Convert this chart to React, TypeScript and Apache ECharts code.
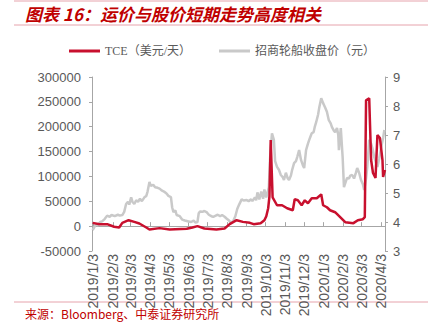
import React, { useEffect, useRef } from "react";
import * as echarts from "echarts";

// ---- Data ----
const monthTicks = [
  "2019/1/3", "2019/2/3", "2019/3/3", "2019/4/3", "2019/5/3", "2019/6/3", "2019/7/3", "2019/8/3",
  "2019/9/3", "2019/10/3", "2019/11/3", "2019/12/3", "2020/1/3", "2020/2/3", "2020/3/3", "2020/4/3",
];

const tceDates = [
  "2019/1/2", "2019/1/13", "2019/1/25", "2019/2/5", "2019/2/13", "2019/2/18", "2019/2/28", "2019/3/9",
  "2019/3/17", "2019/3/28", "2019/4/2", "2019/4/18", "2019/5/4", "2019/5/31", "2019/6/9", "2019/6/17",
  "2019/6/28", "2019/7/17", "2019/7/30", "2019/8/7", "2019/8/18", "2019/8/28", "2019/9/8", "2019/9/14",
  "2019/9/25", "2019/10/1", "2019/10/4", "2019/10/7", "2019/10/9", "2019/10/11", "2019/10/14", "2019/10/21",
  "2019/10/29", "2019/11/6", "2019/11/15", "2019/11/18", "2019/11/23", "2019/11/29", "2019/12/4", "2019/12/9",
  "2019/12/15", "2019/12/23", "2019/12/30", "2020/1/2", "2020/1/8", "2020/1/13", "2020/1/21", "2020/1/29",
  "2020/2/6", "2020/2/19", "2020/2/26", "2020/3/5", "2020/3/8", "2020/3/10", "2020/3/15", "2020/3/18",
  "2020/3/21", "2020/3/25", "2020/3/28", "2020/4/1", "2020/4/5", "2020/4/6", "2020/4/9",
];
const tceValues = [
  6600, 4000, 4000, -1300, -2700, 6600, 12000, 8600,
  5400, -2700, -6700, -4000, -6700, -5400, -2700, 0,
  -4700, -6700, -4700, 4000, 12000, 8600, 6600, 4000,
  6000, 12000, 20000, 36000, 60000, 173000, 58000, 42000,
  42000, 36000, 32000, 54000, 52000, 42000, 52000, 46000,
  56000, 56000, 64000, 42000, 38000, 32000, 28000, 18000,
  8000, 6000, 12000, 14000, 18000, 253000, 257000, 133000,
  107000, 97000, 183000, 177000, 133000, 99000, 113000,
];

const priceDates = [
  "2019/1/2", "2019/1/4", "2019/1/7", "2019/1/10", "2019/1/14", "2019/1/17", "2019/1/21", "2019/1/25",
  "2019/1/29", "2019/2/1", "2019/2/6", "2019/2/11", "2019/2/14", "2019/2/18", "2019/2/21", "2019/2/24",
  "2019/2/27", "2019/3/1", "2019/3/4", "2019/3/6", "2019/3/9", "2019/3/12", "2019/3/15", "2019/3/18",
  "2019/3/21", "2019/3/25", "2019/3/28", "2019/3/30", "2019/4/2", "2019/4/4", "2019/4/8", "2019/4/11",
  "2019/4/15", "2019/4/18", "2019/4/22", "2019/4/25", "2019/4/29", "2019/5/2", "2019/5/6", "2019/5/8",
  "2019/5/10", "2019/5/13", "2019/5/15", "2019/5/20", "2019/5/24", "2019/5/28", "2019/6/3", "2019/6/7",
  "2019/6/11", "2019/6/14", "2019/6/17", "2019/6/19", "2019/6/21", "2019/6/25", "2019/6/28", "2019/7/2",
  "2019/7/5", "2019/7/9", "2019/7/12", "2019/7/16", "2019/7/19", "2019/7/23", "2019/7/26", "2019/7/30",
  "2019/8/2", "2019/8/6", "2019/8/9", "2019/8/13", "2019/8/16", "2019/8/19", "2019/8/22", "2019/8/26",
  "2019/8/29", "2019/9/3", "2019/9/6", "2019/9/10", "2019/9/12", "2019/9/16", "2019/9/18", "2019/9/20",
  "2019/9/23", "2019/9/26", "2019/9/29", "2019/10/1", "2019/10/4", "2019/10/8", "2019/10/10", "2019/10/13",
  "2019/10/16", "2019/10/18", "2019/10/21", "2019/10/24", "2019/10/27", "2019/10/30", "2019/11/1", "2019/11/4",
  "2019/11/7", "2019/11/9", "2019/11/12", "2019/11/14", "2019/11/17", "2019/11/20", "2019/11/22", "2019/11/25",
  "2019/11/28", "2019/12/1", "2019/12/3", "2019/12/6", "2019/12/9", "2019/12/11", "2019/12/13", "2019/12/15",
  "2019/12/18", "2019/12/20", "2019/12/22", "2019/12/25", "2019/12/27", "2019/12/30", "2020/1/2", "2020/1/5",
  "2020/1/8", "2020/1/11", "2020/1/14", "2020/1/16", "2020/1/19", "2020/1/21", "2020/1/24", "2020/1/26",
  "2020/1/27", "2020/1/29", "2020/1/30", "2020/2/2", "2020/2/4", "2020/2/7", "2020/2/9", "2020/2/12",
  "2020/2/14", "2020/2/17", "2020/2/20", "2020/2/23", "2020/2/25", "2020/2/28", "2020/3/2", "2020/3/5",
  "2020/3/7", "2020/3/10", "2020/3/12", "2020/3/15", "2020/3/18", "2020/3/20", "2020/3/23", "2020/3/25",
  "2020/3/28", "2020/3/31", "2020/4/3", "2020/4/6", "2020/4/8",
];
const priceValues = [
  3.72, 3.8, 3.92, 3.88, 4.0, 4.02, 4.1, 4.22,
  4.18, 4.24, 4.2, 4.25, 4.22, 4.24, 4.35, 4.62,
  4.7, 4.6, 4.85, 4.7, 4.62, 4.75, 4.7, 4.8,
  4.72, 4.85, 4.9, 5.05, 5.38, 5.25, 5.28, 5.2,
  5.18, 5.15, 5.08, 5.05, 4.98, 4.9, 4.86, 4.5,
  4.34, 4.4, 4.24, 4.2, 4.08, 4.05, 4.02, 4.0,
  4.05, 3.98, 4.0, 4.3, 4.36, 4.35, 4.38, 4.33,
  4.25, 4.2, 4.18, 4.22, 4.25, 4.2, 4.24, 4.18,
  4.12, 4.05, 3.97, 4.05, 4.2, 4.45, 4.6, 4.78,
  4.74, 4.76, 4.72, 4.78, 4.72, 4.85, 4.75, 5.02,
  4.78, 5.05, 4.8, 5.12, 4.85, 5.2, 6.2, 7.06,
  6.83, 6.1, 5.9, 5.8, 5.62, 5.55, 5.45, 5.7,
  5.5, 5.45, 5.6, 5.8, 6.03, 6.1, 6.24, 6.48,
  6.14, 5.95, 5.86, 6.48, 6.7, 6.83, 6.95, 7.06,
  7.1, 7.3, 7.44, 7.7, 7.96, 8.27, 8.1, 7.96,
  7.8, 7.51, 7.4, 7.27, 7.15, 7.1, 7.24, 7.0,
  6.48, 7.0, 7.24, 6.2, 5.2, 5.4, 5.52, 5.5,
  5.6, 5.62, 5.5, 5.7, 5.86, 5.7, 5.45, 5.3,
  5.1, 5.5, 5.9, 6.83, 6.7, 6.55, 6.24, 6.1,
  5.9, 6.2, 6.59, 6.9, 7.17,
];

const startDate = "2019/1/1";
const endDate = "2020/4/9";

function buildCategories(): string[] {
  const out: string[] = [];
  const [sy, sm, sd] = startDate.split("/").map(Number);
  const [ey, em, ed] = endDate.split("/").map(Number);
  const d = new Date(sy, sm - 1, sd);
  const end = new Date(ey, em - 1, ed);
  while (d <= end) {
    out.push(`${d.getFullYear()}/${d.getMonth() + 1}/${d.getDate()}`);
    d.setDate(d.getDate() + 1);
  }
  return out;
}

const RED = "#C8102E";
const GRAY = "#C9C9C9";
const AXIS = "#A6A6A6";
const LABEL = "#595959";
const PINK = "#E6A3AC";

export default function App() {
  const ref = useRef<HTMLDivElement>(null);
  useEffect(() => {
    document.body.style.margin = "0";
    if (!ref.current) return;
    const chart = echarts.init(ref.current, null, { renderer: "svg" });
    const cats = buildCategories();
    const tickSet = new Set(monthTicks);
    const tickFn = (_i: number, v: string) => tickSet.has(v);
    chart.setOption({
      animation: false,
      backgroundColor: "#ffffff",
      grid: { left: 92, right: 43, top: 77, bottom: 73, containLabel: false },
      legend: {
        left: 64,
        top: 40,
        itemWidth: 31,
        itemHeight: 3,
        itemGap: 28,
        icon: "rect",
        textStyle: { color: LABEL, fontSize: 12, fontFamily: "'Liberation Serif', 'Noto Sans CJK SC', serif" },
        data: ["TCE（美元/天）", "招商轮船收盘价（元）"],
      },
      xAxis: {
        type: "category",
        data: cats,
        boundaryGap: false,
        axisLine: { onZero: true, lineStyle: { color: AXIS, width: 1 } },
        axisTick: { show: true, inside: true, length: 4, interval: tickFn, lineStyle: { color: AXIS } },
        axisLabel: {
          interval: tickFn,
          rotate: 90,
          margin: 3,
          color: LABEL,
          fontSize: 14,
          fontFamily: "'Liberation Sans', Arial, sans-serif",
        },
        splitLine: { show: false },
      },
      yAxis: [
        {
          type: "value",
          min: -50000,
          max: 300000,
          interval: 50000,
          axisLine: { show: true, lineStyle: { color: AXIS } },
          axisTick: { show: true, length: 3, lineStyle: { color: AXIS } },
          axisLabel: {
            color: LABEL,
            fontSize: 13,
            margin: 11,
            fontFamily: "'Liberation Sans', Arial, sans-serif",
            formatter: (v: number) => String(v),
          },
          splitLine: { show: false },
        },
        {
          type: "value",
          min: 3,
          max: 9,
          interval: 1,
          position: "right",
          axisLine: { show: true, lineStyle: { color: AXIS } },
          axisTick: { show: true, length: 3, lineStyle: { color: AXIS } },
          axisLabel: { color: LABEL, fontSize: 13, margin: 8, fontFamily: "'Liberation Sans', Arial, sans-serif" },
          splitLine: { show: false },
        },
      ],
      series: [
        {
          name: "TCE（美元/天）",
          type: "line",
          yAxisIndex: 0,
          showSymbol: false,
          symbol: "none",
          z: 3,
          lineStyle: { color: RED, width: 2.5 },
          itemStyle: { color: RED },
          data: tceDates.map((d, i) => [d, tceValues[i]]),
        },
        {
          name: "招商轮船收盘价（元）",
          type: "line",
          yAxisIndex: 1,
          showSymbol: false,
          symbol: "none",
          z: 2,
          lineStyle: { color: GRAY, width: 2.5 },
          itemStyle: { color: GRAY },
          data: priceDates.map((d, i) => [d, priceValues[i]]),
        },
      ],
      graphic: [
        { type: "line", shape: { x1: 14, y1: 1, x2: 428, y2: 1 }, style: { stroke: PINK, lineWidth: 1 } },
        { type: "line", shape: { x1: 14, y1: 25, x2: 428, y2: 25 }, style: { stroke: PINK, lineWidth: 1 } },
        { type: "line", shape: { x1: 14, y1: 302, x2: 428, y2: 302 }, style: { stroke: PINK, lineWidth: 1 } },
        {
          type: "text",
          x: 25,
          y: 13,
          style: {
            text: "图表 16：运价与股价短期走势高度相关",
            fill: "#C00000",
            font: "italic bold 17px 'Noto Sans CJK SC', sans-serif",
            textVerticalAlign: "middle",
          },
        },
        {
          type: "text",
          x: 25,
          y: 313,
          style: {
            text: "来源：Bloomberg、中泰证券研究所",
            fill: "#C00000",
            font: "12px 'Noto Sans CJK SC', sans-serif",
            textVerticalAlign: "middle",
          },
        },
      ],
    });
    return () => chart.dispose();
  }, []);
  return <div ref={ref} style={{ width: 428, height: 324, position: "fixed", left: 0, top: 0 }} />;
}
